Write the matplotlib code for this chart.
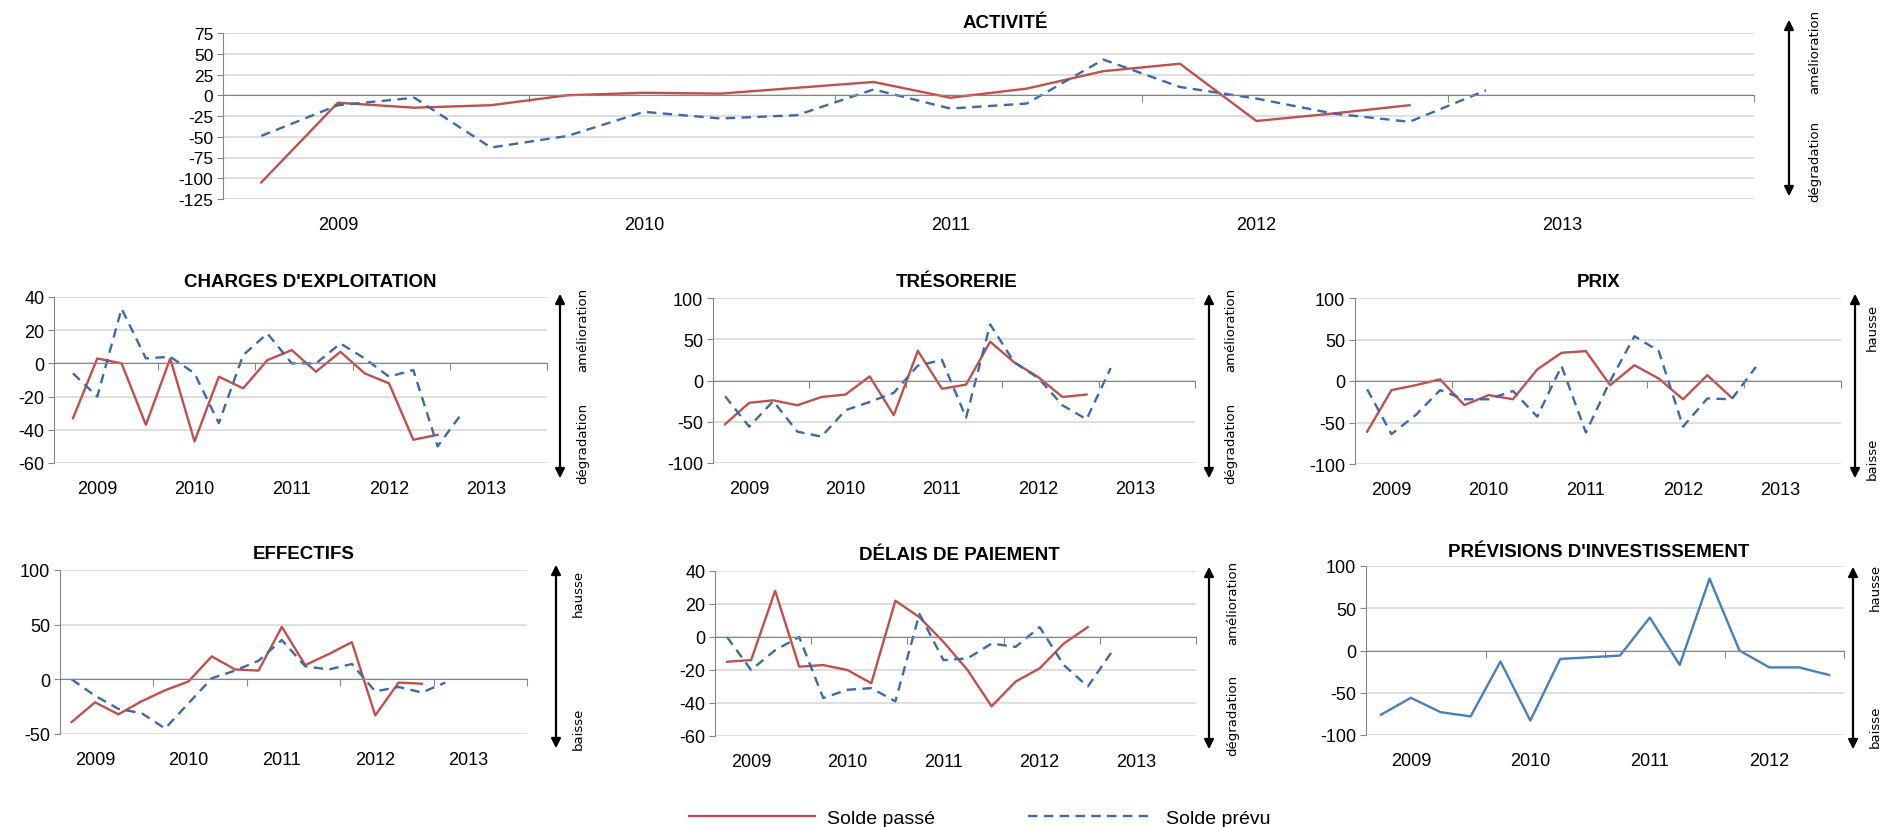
import numpy as np
import matplotlib.pyplot as plt

plt.rcParams['font.family'] = ['Liberation Sans', 'DejaVu Sans']

RED = '#c0504d'
BLUE_DASH = '#3c6aa8'
BLUE = '#4a7ebb'
GRID = '#d9d9d9'
AXIS = '#868686'

years5 = ['2009', '2010', '2011', '2012', '2013']
years4 = ['2009', '2010', '2011', '2012']

# soldes trimestriels (passé / prévu)
activite_passe = [-105, -9, -15, -12, 0, 3, 2, 9, 16, -3, 8, 29, 38, -31, -22, -12]
activite_prevu = [-49, -12, -3, -63, -49, -20, -28, -24, 7, -16, -10, 43, 10, -4, -22, -32, 6]

charges_passe = [-33, 3, 0, -37, 3, -47, -8, -15, 2, 8, -5, 7, -6, -12, -46, -43]
charges_prevu = [-6, -20, 33, 3, 4, -6, -36, 5, 18, 0, 0, 12, 3, -8, -4, -50, -30]

tresorerie_passe = [-53, -27, -24, -30, -20, -17, 5, -42, 36, -10, -5, 47, 22, 4, -20, -17]
tresorerie_prevu = [-19, -56, -25, -62, -68, -36, -26, -15, 18, 25, -45, 68, 22, 3, -30, -47, 15]

prix_passe = [-61, -11, -5, 2, -29, -17, -22, 14, 34, 36, -5, 19, 3, -22, 7, -20]
prix_prevu = [-10, -64, -41, -11, -22, -22, -12, -43, 18, -62, 0, 54, 36, -55, -21, -22, 17]

effectifs_passe = [-39, -21, -32, -20, -10, -2, 21, 9, 8, 48, 13, 23, 34, -33, -3, -4]
effectifs_prevu = [0, -15, -27, -31, -45, -22, 1, 8, 17, 36, 12, 9, 14, -11, -7, -12, -3]

delais_passe = [-15, -14, 28, -18, -17, -20, -28, 22, 12, -3, -20, -42, -27, -19, -4, 6]
delais_prevu = [0, -20, -8, 0, -37, -32, -31, -39, 14, -14, -13, -4, -6, 6, -17, -30, -9]

investissement = [-76, -56, -73, -78, -13, -83, -10, -8, -6, 39, -17, 85, 0, -20, -20, -29]

W, H = 1880, 828
fig = plt.figure(figsize=(W / 100, H / 100), dpi=100)


def px_rect(l, r, t, b):
    return [l / W, 1 - b / H, (r - l) / W, (b - t) / H]


def fx(x):
    return x / W


def fy(y):
    return 1 - y / H


def panel(rect, title, title_xy, yticks, xmin, xmax, years, series, fs, arrow):
    ax = fig.add_axes(rect)
    for vals, style in series:
        ax.plot(np.arange(len(vals)), vals, **style)
    ax.set_xlim(xmin, xmax)
    ax.set_ylim(yticks[0], yticks[-1])
    ax.set_yticks(yticks)
    ax.set_yticklabels([str(v) for v in yticks], fontsize=fs)
    ax.yaxis.grid(True, color=GRID, lw=1.2, zorder=0)
    ax.set_axisbelow(True)
    for s in ['top', 'right']:
        ax.spines[s].set_visible(False)
    ax.spines['left'].set_color(AXIS)
    ax.spines['bottom'].set_color(AXIS)
    ax.spines['bottom'].set_position(('data', 0))
    ax.tick_params(axis='y', length=4, color=AXIS, pad=3)
    # séparations entre années sur l'axe zéro
    bounds = np.arange(3.5, xmax + 0.01, 4)
    ax.set_xticks(bounds)
    ax.set_xticklabels([])
    ax.tick_params(axis='x', length=5, color=AXIS, direction='out')
    # libellés des années sous le graphique
    sec = ax.secondary_xaxis('bottom')
    sec.set_xticks(np.arange(1, 4 * len(years), 4))
    sec.set_xticklabels(years, fontsize=13)
    sec.tick_params(length=0, pad=12)
    sec.spines['bottom'].set_visible(False)
    fig.text(fx(title_xy[0]), fy(title_xy[1]), title, ha='center', va='center',
             fontsize=13.5, fontweight='bold')
    # flèche double et sens d'interprétation
    axx, y0, y1, tx, lab_hi, y_hi, lab_lo, y_lo = arrow
    fig.add_artist(plt.matplotlib.patches.FancyArrowPatch(
        (fx(axx), fy(y1)), (fx(axx), fy(y0)), transform=fig.transFigure,
        arrowstyle='<|-|>', mutation_scale=14, lw=1.6, color='black'))
    fig.text(fx(tx), fy(y_hi), lab_hi, rotation=90, ha='center', va='center',
             fontsize=9.5, family='DejaVu Sans')
    fig.text(fx(tx), fy(y_lo), lab_lo, rotation=90, ha='center', va='center',
             fontsize=9.5, family='DejaVu Sans')
    return ax


passe_style = dict(color=RED, lw=1.7, label='Solde passé')
prevu_style = dict(color=BLUE_DASH, lw=1.7, dashes=(4, 2.7), label='Solde prévu')

ax_top = panel(px_rect(223, 1754, 34, 200), 'ACTIVITÉ', (1005, 23),
               [-125, -100, -75, -50, -25, 0, 25, 50, 75], -0.5, 19.5, years5,
               [(activite_passe, passe_style), (activite_prevu, prevu_style)], 12.5,
               (1789, 18, 200, 1815, 'amélioration', 52, 'dégradation', 161))

panel(px_rect(54, 547, 298, 464), "CHARGES D'EXPLOITATION", (310, 283),
      [-60, -40, -20, 0, 20, 40], -0.78, 19.5, years5,
      [(charges_passe, passe_style), (charges_prevu, prevu_style)], 13,
      (560, 292, 482, 583, 'amélioration', 330, 'dégradation', 443))

panel(px_rect(713, 1195, 299, 464), 'TRÉSORERIE', (957, 283),
      [-100, -50, 0, 50, 100], -0.5, 19.5, years5,
      [(tresorerie_passe, passe_style), (tresorerie_prevu, prevu_style)], 13,
      (1209, 292, 482, 1231, 'amélioration', 330, 'dégradation', 443))

panel(px_rect(1355, 1841, 299, 465), 'PRIX', (1599, 283),
      [-100, -50, 0, 50, 100], -0.5, 19.5, years5,
      [(prix_passe, passe_style), (prix_prevu, prevu_style)], 13,
      (1855, 292, 482, 1872, 'hausse', 327, 'baisse', 459))

panel(px_rect(60, 527, 571, 735), 'EFFECTIFS', (304, 555),
      [-50, 0, 50, 100], -0.5, 19.5, years5,
      [(effectifs_passe, passe_style), (effectifs_prevu, prevu_style)], 13,
      (556, 563, 752, 578, 'hausse', 593, 'baisse', 729))

panel(px_rect(715, 1196, 572, 737), 'DÉLAIS DE PAIEMENT', (959, 556),
      [-60, -40, -20, 0, 20, 40], -0.5, 19.5, years5,
      [(delais_passe, passe_style), (delais_prevu, prevu_style)], 13,
      (1209, 565, 753, 1233, 'amélioration', 603, 'dégradation', 715))

panel(px_rect(1366, 1844, 567, 736), "PRÉVISIONS D'INVESTISSEMENT", (1599, 553),
      [-100, -50, 0, 50, 100], -0.5, 15.5, years4,
      [(investissement, dict(color=BLUE, lw=1.7))], 13,
      (1853, 565, 753, 1875, 'hausse', 587, 'baisse', 727))

handles, labels = ax_top.get_legend_handles_labels()
fig.legend(handles, labels, loc='center', bbox_to_anchor=(0.521, fy(819)), ncol=2,
           frameon=False, fontsize=14, handlelength=6.5, handletextpad=0.6,
           columnspacing=4.8)

fig.savefig('out.png', dpi=100)
